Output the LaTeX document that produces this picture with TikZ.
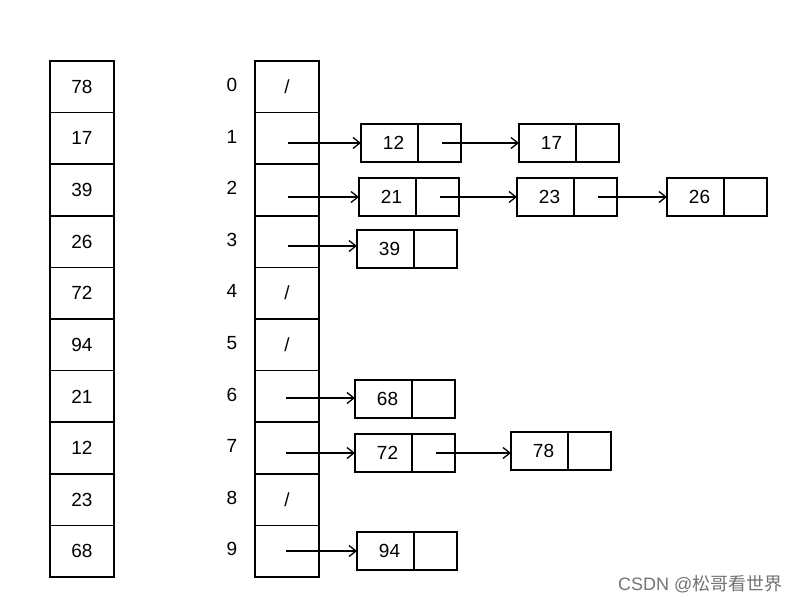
\documentclass[tikz,border=0pt]{standalone}
\usepackage{fontspec}
\setmainfont{Liberation Sans}
\newfontfamily\cjkfont{Noto Sans CJK SC}
\usetikzlibrary{arrows.meta}
\begin{document}
\begin{tikzpicture}[x=1pt,y=-1pt,
  cell/.style={draw,line width=1.5pt,rectangle,inner sep=0pt,outer sep=0pt,minimum width=64pt,minimum height=51.6pt,font=\fontsize{19}{19}\selectfont},
  dcell/.style={draw,line width=1.5pt,rectangle,inner sep=0pt,outer sep=0pt,minimum width=57pt,minimum height=38pt,font=\fontsize{19}{19}\selectfont,text width=57pt,align=center},
  pcell/.style={draw,line width=1.5pt,rectangle,inner sep=0pt,outer sep=0pt,minimum width=43pt,minimum height=38pt},
  idx/.style={font=\fontsize{19}{19}\selectfont},
  link/.style={line width=1.3pt,-{Straight Barb[length=7pt,width=11pt,line width=1.3pt]}}]
\useasboundingbox (0,0) rectangle (800,604);
% left array
\foreach \v [count=\i from 0] in {78,17,39,26,72,94,21,12,23,68}{
  \node[cell] (a\i) at (82,{61+25.8+51.6*\i}) {\v};
}
% bucket array
\foreach \s [count=\i from 0] in {/,,,,/,/,,,/,}{
  \node[cell] (b\i) at (287,{61+25.8+51.6*\i}) {\s};
  \node[idx,anchor=center] (n\i) at (232,{61+24+51.6*\i}) {\i};
}
% chain nodes
\newcommand{\elem}[3]{%
  \node[dcell,anchor=west] (d#1) at (#2,#3) {\hspace*{8pt}#1};
  \node[pcell,anchor=west] (p#1) at (d#1.east) {};
}
\elem{12}{361}{143}
\elem{17}{519}{143}
\elem{21}{359}{197}
\elem{23}{517}{197}
\elem{26}{667}{197}
\elem{39}{357}{249}
\elem{68}{355}{399}
\elem{72}{355}{453}
\elem{78}{511}{451}
\elem{94}{357}{551}
% start points in buckets
\coordinate (s1) at (288,143);
\coordinate (s2) at (288,197);
\coordinate (s3) at (288,246);
\coordinate (s6) at (286,398);
\coordinate (s7) at (286,453);
\coordinate (s9) at (286,551);
\draw[link] (s1) -- (d12.west);
\draw[link] (s2) -- (d21.west);
\draw[link] (s3) -- (d39.west |- s3);
\draw[link] (s6) -- (d68.west |- s6);
\draw[link] (s7) -- (d72.west);
\draw[link] (s9) -- (d94.west);
\draw[link] (p12.center) ++(2,0) coordinate (c12) (c12) -- (d17.west);
\draw[link] (p21.center) ++(2,0) coordinate (c21) (c21) -- (d23.west);
\draw[link] (p23.center) ++(2,0) coordinate (c23) (c23) -- (d26.west);
\draw[link] (p72.center) ++(2,0) coordinate (c72) (c72) -- (d78.west |- c72);
% watermark
\node[anchor=east,text=black!55,font=\fontsize{18}{18}\selectfont] (wm) at (786,584) {CSDN @{\cjkfont 松哥看世界}};
\end{tikzpicture}
\end{document}
